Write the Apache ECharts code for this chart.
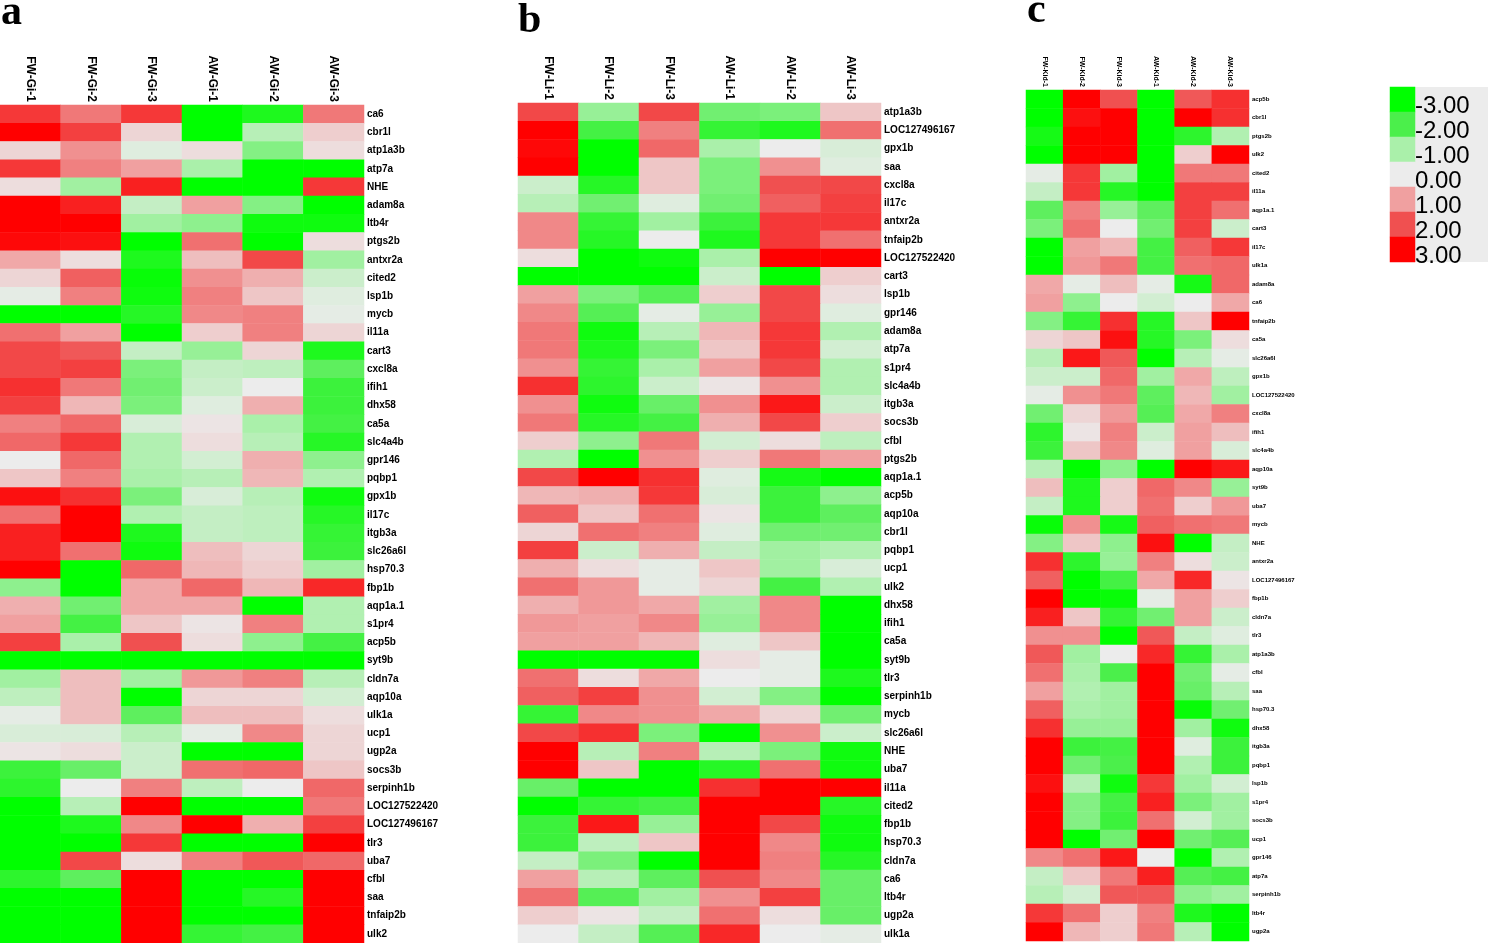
<!DOCTYPE html>
<html>
<head>
<meta charset="utf-8">
<script src="https://cdn.jsdelivr.net/npm/echarts@6/dist/echarts.min.js"></script>
<style>
  html, body { margin: 0; padding: 0; background: #fff; }
  #main { width: 1488px; height: 943px; }
</style>
</head>
<body>
<div id="main"></div>
<script>
// columns of the three panels
const colsA = ['FW-Gi-1', 'FW-Gi-2', 'FW-Gi-3', 'AW-Gi-1', 'AW-Gi-2', 'AW-Gi-3'];
const colsB = ['FW-Li-1', 'FW-Li-2', 'FW-Li-3', 'AW-Li-1', 'AW-Li-2', 'AW-Li-3'];
const colsC = ['FW-Kid-1', 'FW-Kid-2', 'FW-Kid-3', 'AW-Kid-1', 'AW-Kid-2', 'AW-Kid-3'];

// gene order, top to bottom
const genesA = ['ca6', 'cbr1l', 'atp1a3b', 'atp7a', 'NHE', 'adam8a', 'ltb4r', 'ptgs2b', 'antxr2a', 'cited2',
  'lsp1b', 'mycb', 'il11a', 'cart3', 'cxcl8a', 'ifih1', 'dhx58', 'ca5a', 'slc4a4b', 'gpr146',
  'pqbp1', 'gpx1b', 'il17c', 'itgb3a', 'slc26a6l', 'hsp70.3', 'fbp1b', 'aqp1a.1', 's1pr4', 'acp5b',
  'syt9b', 'cldn7a', 'aqp10a', 'ulk1a', 'ucp1', 'ugp2a', 'socs3b', 'serpinh1b', 'LOC127522420', 'LOC127496167',
  'tlr3', 'uba7', 'cfbl', 'saa', 'tnfaip2b', 'ulk2'];
const genesB = ['atp1a3b', 'LOC127496167', 'gpx1b', 'saa', 'cxcl8a', 'il17c', 'antxr2a', 'tnfaip2b', 'LOC127522420', 'cart3',
  'lsp1b', 'gpr146', 'adam8a', 'atp7a', 's1pr4', 'slc4a4b', 'itgb3a', 'socs3b', 'cfbl', 'ptgs2b',
  'aqp1a.1', 'acp5b', 'aqp10a', 'cbr1l', 'pqbp1', 'ucp1', 'ulk2', 'dhx58', 'ifih1', 'ca5a',
  'syt9b', 'tlr3', 'serpinh1b', 'mycb', 'slc26a6l', 'NHE', 'uba7', 'il11a', 'cited2', 'fbp1b',
  'hsp70.3', 'cldn7a', 'ca6', 'ltb4r', 'ugp2a', 'ulk1a'];
const genesC = ['acp5b', 'cbr1l', 'ptgs2b', 'ulk2', 'cited2', 'il11a', 'aqp1a.1', 'cart3', 'il17c', 'ulk1a',
  'adam8a', 'ca6', 'tnfaip2b', 'ca5a', 'slc26a6l', 'gpx1b', 'LOC127522420', 'cxcl8a', 'ifih1', 'slc4a4b',
  'aqp10a', 'syt9b', 'uba7', 'mycb', 'NHE', 'antxr2a', 'LOC127496167', 'fbp1b', 'cldn7a', 'tlr3',
  'atp1a3b', 'cfbl', 'saa', 'hsp70.3', 'dhx58', 'itgb3a', 'pqbp1', 'lsp1b', 's1pr4', 'socs3b',
  'ucp1', 'gpr146', 'atp7a', 'serpinh1b', 'ltb4r', 'ugp2a'];

// z-scores, one row per gene, columns in the order above
const valuesA = [
  [2.3, 1.5, 2.3, -3, -2.6, 1.5],
  [3, 2.2, 0.3, -3, -0.8, 0.4],
  [0.3, 1.2, -0.2, 0.2, -1.4, 0.2],
  [2.3, 1.4, 1.0, -1.0, -3, -3],
  [0.2, -1.1, 2.6, -3, -3, 2.3],
  [3, 2.6, -0.6, 1.0, -1.4, -3],
  [3, 3, -1.1, -1.3, -2.8, -2.8],
  [2.9, 2.8, -3, 1.6, -3, 0.2],
  [0.9, 0.2, -2.6, 0.6, 2.1, -1.1],
  [0.3, 1.8, -2.9, 1.2, 0.8, -0.5],
  [-0.1, 1.4, -2.8, 1.4, 0.5, -0.2],
  [-3, -3, -2.5, 1.3, 1.4, -0.1],
  [1.6, 1.0, -3, 0.4, 1.4, 0.3],
  [2.1, 1.9, -0.6, -1.2, 0.3, -2.6],
  [2.1, 2.2, -1.5, -0.6, -0.7, -1.8],
  [2.4, 1.5, -1.6, -0.5, 0, -2.2],
  [2.2, 0.7, -1.5, -0.2, 0.8, -2.2],
  [1.4, 1.7, -0.3, 0.1, -1.0, -2.1],
  [1.7, 2.3, -0.9, 0.2, -0.8, -2.5],
  [0, 1.7, -0.9, -0.4, 0.8, -1.3],
  [0.5, 1.4, -1.0, -0.8, 0.7, -0.9],
  [2.8, 2.4, -1.5, -0.3, -0.8, -2.8],
  [1.6, 3, -0.9, -0.6, -0.7, -2.5],
  [2.6, 3, -2.6, -0.6, -0.7, -2.3],
  [2.6, 1.6, -2.8, 0.6, 0.3, -2.2],
  [3, -3, 1.7, 0.7, 0.4, -1.1],
  [-1.3, -3, 0.9, 1.7, 0.7, 2.5],
  [0.8, -1.6, 0.9, 0.9, -3, -0.9],
  [1.0, -2.1, 0.5, 0.1, 1.4, -0.9],
  [2.2, -1.0, 2.0, 0.2, -1.3, -2.1],
  [-3, -3, -3, -3, -3, -3],
  [-1.1, 0.6, -1.1, 1.1, 1.4, -0.8],
  [-0.7, 0.6, -3, 0.3, 0.3, -0.4],
  [-0.1, 0.6, -1.8, 0.6, 0.6, 0.2],
  [-0.3, -0.3, -0.8, -0.1, 1.3, 0.3],
  [0.1, 0.2, -0.5, -3, -3, 0.3],
  [-2.2, -1.7, -0.5, 1.6, 1.7, 0.5],
  [-2.4, 0, 1.4, -0.7, 0, 1.7],
  [-3, -0.8, 3, -3, -3, 1.5],
  [-3, -2.6, 1.3, 3, 0.8, 2.2],
  [-3, -3, 2.3, -3, -3, 3],
  [-3, 2.1, 0.2, 1.4, 1.9, 1.7],
  [-2.4, -1.8, 3, -3, -3, 3],
  [-3, -3, 3, -3, -2.5, 3],
  [-3, -3, 3, -3, -3, 3],
  [-3, -3, 3, -2.3, -2.1, 3]
];
const valuesB = [
  [2.1, -1.2, 2.1, -1.6, -1.5, 0.5],
  [3, -2.1, 1.4, -2.3, -2.6, 1.6],
  [2.9, -3, 1.7, -1.0, 0, -0.3],
  [3, -3, 0.5, -1.5, 1.2, -0.2],
  [-0.5, -2.5, 0.5, -1.5, 2.0, 2.1],
  [-0.8, -1.6, -0.2, -1.6, 1.8, 2.2],
  [1.3, -2.3, -1.1, -2.2, 2.3, 2.3],
  [1.3, -2.5, 0, -2.6, 2.3, 1.6],
  [0.2, -3, -2.8, -1.0, 3, 3],
  [-3, -3, -3, -0.5, -3, 0.4],
  [1.0, -1.5, -1.9, 0.4, 2.1, 0.2],
  [1.3, -1.9, -0.1, -1.2, 2.1, -0.2],
  [1.5, -2.8, -0.8, 0.7, 2.3, -0.9],
  [1.5, -2.6, -1.5, 0.5, 2.3, -0.4],
  [1.2, -2.3, -1.0, 1.0, 2.1, -0.9],
  [2.4, -2.4, -0.5, 0.1, 1.2, -0.9],
  [1.2, -2.8, -1.7, 1.2, 2.7, -0.5],
  [1.5, -2.5, -2.1, 0.8, 2.1, 0.4],
  [0.4, -1.3, 1.5, -0.4, 0.2, -0.7],
  [-0.9, -3, 1.2, 0.4, 1.5, 1.0],
  [2.1, 3, 2.4, -0.2, -2.7, -3],
  [0.7, 0.8, 2.3, -0.3, -2.2, -1.3],
  [1.8, 0.5, 1.6, 0.1, -2.2, -1.8],
  [0.3, 1.6, 1.4, -0.2, -1.6, -1.6],
  [2.2, -0.5, 0.8, -0.6, -1.1, -0.9],
  [0.8, 0.2, -0.1, 0.5, -1.1, -0.3],
  [1.6, 1.1, -0.1, 0.3, -2.1, -0.9],
  [0.8, 1.1, 0.9, -1.1, 1.3, -3],
  [1.1, 1.0, 1.3, -1.2, 1.3, -3],
  [1.0, 1.0, 0.7, -0.2, 0.5, -3],
  [-3, -3, -3, 0.2, -0.1, -3],
  [1.6, 0.2, 0.9, 0, -0.1, -2.6],
  [1.8, 2.2, 1.2, -0.4, -1.4, -3],
  [-2.3, 1.3, 1.2, 0.9, 0.3, -1.6],
  [2.1, 2.4, -1.5, -3, 1.2, -0.5],
  [3, -0.8, 1.4, -0.8, -1.5, -2.8],
  [3, 0.5, -3, -2.5, 1.6, -2.8],
  [-1.7, -3, -3, 2.4, 3, 3],
  [-3, -2.3, -2.1, 3, 3, -2.5],
  [-2.2, 2.7, -1.2, 3, 2.1, -2.8],
  [-2.2, -0.7, 0.5, 3, 1.3, -2.8],
  [-0.6, -1.5, -3, 3, 1.4, -2.5],
  [1.0, -0.8, -1.8, 2.0, 1.3, -1.7],
  [1.6, -1.9, -1.1, 1.2, 2.2, -1.7],
  [0.4, 0.1, -0.6, 1.6, 0.2, -1.7],
  [0, -0.6, -1.9, 2.5, 0, -0.1]
];
const valuesC = [
  [-3, 3, 2.0, -3, 1.9, 2.4],
  [-3, 2.8, 3, -3, 3, 2.4],
  [-2.7, 3, 3, -3, -2.4, -0.9],
  [-3, 3, 3, -3, 0.4, 3],
  [-0.1, 2.3, -1.1, -3, 1.5, 1.5],
  [-0.6, 2.3, -2.5, -3, 2.2, 2.2],
  [-1.8, 1.4, -1.2, -1.8, 2.2, 1.6],
  [-1.5, 1.6, 0, -1.6, 2.2, -0.5],
  [-3, 1.0, 0.7, -2.1, 1.8, 2.3],
  [-3, 1.1, 1.5, -2.1, 1.6, 1.7],
  [0.9, -0.1, 0.6, -0.1, -2.7, 1.7],
  [1.0, -1.3, 0, -0.4, 0, 0.9],
  [-1.4, -2.3, 2.4, -2.5, 0.5, 3],
  [0.3, 0.5, 2.8, -2.5, -1.5, 0.2],
  [-0.8, 2.7, 1.9, -3, -0.8, -0.1],
  [-0.5, -0.5, 1.7, -1.1, 0.9, -0.7],
  [-0.1, 1.2, 1.5, -1.8, 0.7, -1.1],
  [-1.6, 0.3, 1.1, -1.9, 0.9, 1.4],
  [-2.4, 0.1, 1.4, -0.5, 1.0, 0.6],
  [-2.2, 0.5, 1.3, -0.2, 1.0, -0.3],
  [-0.8, -3, -1.3, -3, 3, 2.7],
  [0.6, -2.6, 0.4, 1.7, 1.3, -1.2],
  [-0.6, -2.6, 0.4, 1.6, 0.4, 1.1],
  [-2.9, 1.2, -2.7, 1.8, 1.6, 1.5],
  [-1.4, 0.5, -1.3, 2.8, -3, -0.6],
  [2.4, -2.4, -1.2, 1.4, 0.2, -0.5],
  [1.8, -3, -2.1, 0.9, 2.5, 0.1],
  [3, -3, -2.9, -0.1, 1.0, 0.4],
  [2.6, 0.5, -2.3, -1.6, 1.0, -0.5],
  [1.2, 1.2, -3, 1.9, -0.6, -0.2],
  [1.9, -1.1, 0, 2.5, -2.3, -1.0],
  [1.6, -1.0, -2.0, 3, -1.6, -0.1],
  [1.0, -0.9, -1.1, 3, -1.7, -0.8],
  [1.8, -1.0, -1.1, 3, -2.9, -1.6],
  [2.4, -1.2, -1.2, 3, -1.1, -2.8],
  [3, -2.2, -2.1, 3, -0.2, -2.2],
  [3, -1.6, -2.0, 3, -0.9, -2.2],
  [2.8, -0.8, -2.8, 2.3, -1.1, -0.4],
  [3, -1.4, -2.1, 2.6, -1.5, -1.1],
  [3, -1.4, -2.2, 1.6, -0.4, -1.1],
  [3, -3, -1.6, 3, -1.6, -1.9],
  [1.3, 1.6, 2.7, 0, -3, -0.9],
  [-0.6, 0.5, 1.5, 2.6, -1.9, -2.1],
  [-0.8, -0.4, 1.9, 1.9, -1.3, -1.1],
  [2.3, 1.6, 0.4, 1.4, -2.6, -3],
  [3, 0.7, 0.4, 1.5, -0.8, -3]
];

// colour key
const keyValues = [-3, -2, -1, 0, 1, 2, 3];
const keyLabels = ['-3.00', '-2.00', '-1.00', '0.00', '1.00', '2.00', '3.00'];

function toCells(rows) {
    const out = [];
    rows.forEach((row, y) => {
        row.forEach((v, x) => {
            out.push([x, y, v]);
        });
    });
    return out;
}

const chart = echarts.init(document.getElementById('main'));

const colLabel = (size) => ({
    rotate: 90,
    interval: 0,
    margin: 3,
    color: '#000',
    fontSize: size,
    fontWeight: 'bold',
    fontFamily: 'Liberation Sans, Arial, sans-serif'
});
const geneLabel = (size) => ({
    interval: 0,
    margin: 3,
    color: '#000',
    fontSize: size,
    fontWeight: 'bold',
    fontFamily: 'Liberation Sans, Arial, sans-serif'
});
const noLine = { show: false };
const letterStyle = { fontSize: 42, fontWeight: 'bold', fontFamily: 'Liberation Serif, Times New Roman, serif', color: '#000' };

const option = {
    backgroundColor: '#fff',
    animation: false,
    title: [
        { text: 'a', left: -4, top: -13, textStyle: letterStyle },
        { text: 'b', left: 513, top: -5, textStyle: letterStyle },
        { text: 'c', left: 1022, top: -15, textStyle: letterStyle }
    ],
    graphic: [
        {
            type: 'rect',
            shape: { x: 1415, y: 87, width: 73, height: 175 },
            style: { fill: '#ececec' },
            z: -1
        }
    ],
    visualMap: {
        show: false,
        type: 'continuous',
        min: -3,
        max: 3,
        seriesIndex: [0, 1, 2, 3],
        inRange: {
            color: ['#00ff00', '#4bef4b', '#aaf0aa', '#ececec', '#f0a0a0', '#f05050', '#ff0000']
        }
    },
    grid: [
        { left: 0, top: 105, width: 364, height: 838 },
        { left: 518, top: 103, width: 363, height: 840 },
        { left: 1026, top: 90, width: 223, height: 851 },
        { left: 1390, top: 87, width: 25, height: 175 }
    ],
    xAxis: [
        { gridIndex: 0, type: 'category', position: 'top', data: colsA, axisLine: noLine, axisTick: noLine, axisLabel: colLabel(12) },
        { gridIndex: 1, type: 'category', position: 'top', data: colsB, axisLine: noLine, axisTick: noLine, axisLabel: colLabel(12) },
        { gridIndex: 2, type: 'category', position: 'top', data: colsC, axisLine: noLine, axisTick: noLine, axisLabel: colLabel(7) },
        { gridIndex: 3, type: 'category', data: ['key'], show: false }
    ],
    yAxis: [
        { gridIndex: 0, type: 'category', position: 'right', inverse: true, data: genesA, axisLine: noLine, axisTick: noLine, axisLabel: geneLabel(10) },
        { gridIndex: 1, type: 'category', position: 'right', inverse: true, data: genesB, axisLine: noLine, axisTick: noLine, axisLabel: geneLabel(10) },
        { gridIndex: 2, type: 'category', position: 'right', inverse: true, data: genesC, axisLine: noLine, axisTick: noLine, axisLabel: geneLabel(6) },
        {
            gridIndex: 3, type: 'category', position: 'right', inverse: true, data: keyLabels,
            axisLine: noLine, axisTick: noLine,
            axisLabel: {
                interval: 0, margin: 0, color: '#000', fontSize: 24,
                fontFamily: 'Liberation Sans, Arial, sans-serif',
                verticalAlign: 'top',
                lineHeight: 14
            }
        }
    ],
    series: [
        { type: 'heatmap', xAxisIndex: 0, yAxisIndex: 0, data: toCells(valuesA), emphasis: { disabled: true } },
        { type: 'heatmap', xAxisIndex: 1, yAxisIndex: 1, data: toCells(valuesB), emphasis: { disabled: true } },
        { type: 'heatmap', xAxisIndex: 2, yAxisIndex: 2, data: toCells(valuesC), emphasis: { disabled: true } },
        {
            type: 'heatmap', xAxisIndex: 3, yAxisIndex: 3,
            data: keyValues.map((v, i) => [0, i, v]),
            emphasis: { disabled: true }
        }
    ]
};

chart.setOption(option);
</script>
</body>
</html>
